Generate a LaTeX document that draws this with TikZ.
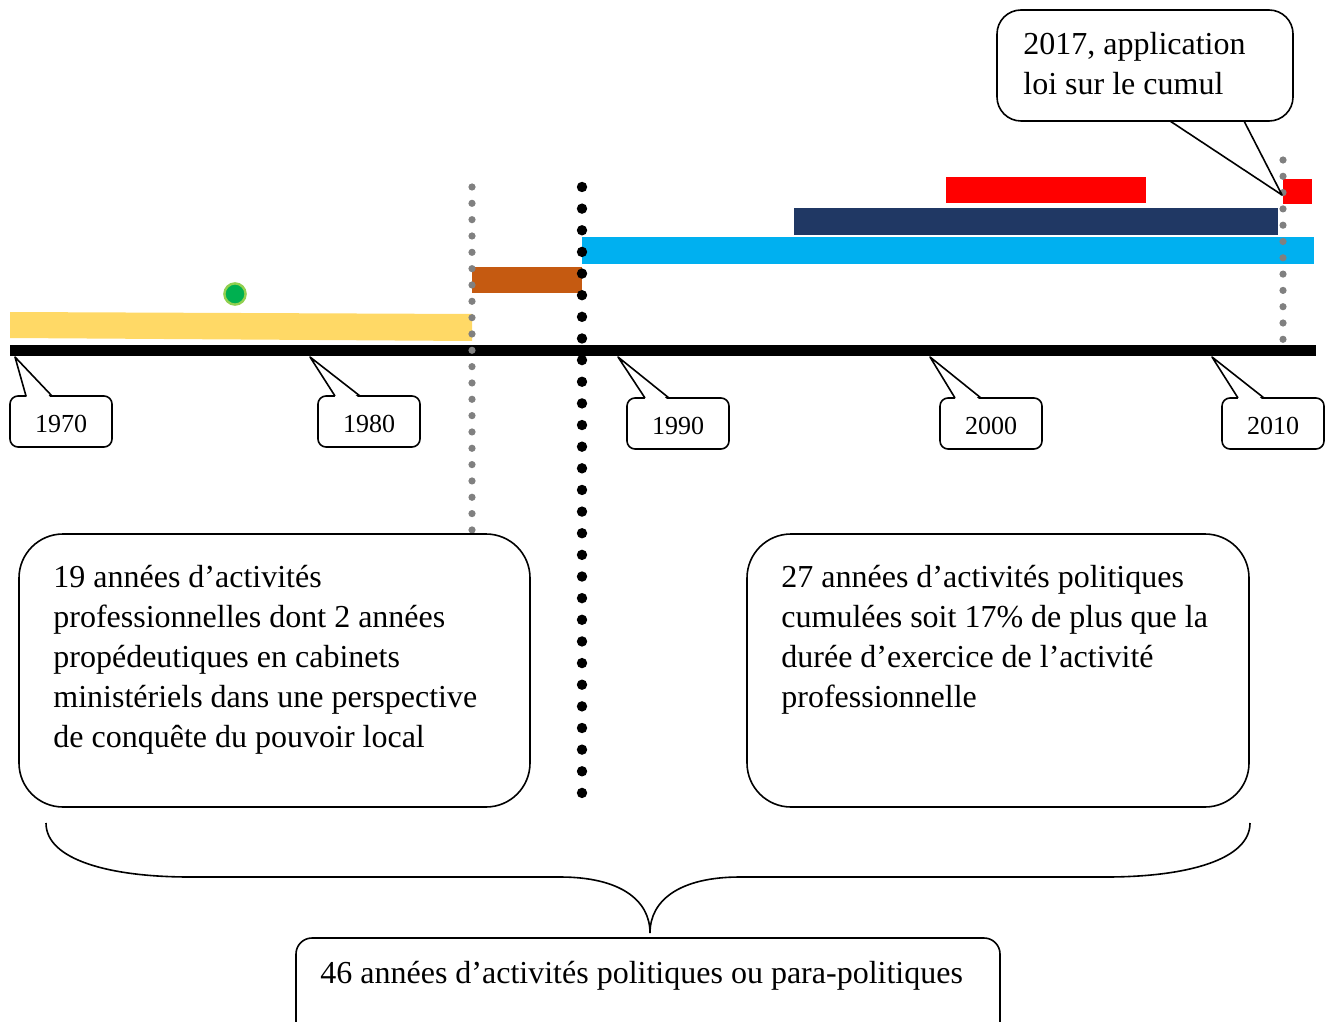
\documentclass[tikz,border=0pt]{standalone}
\usepackage{fontspec}
\setmainfont{Liberation Serif}
\definecolor{yellowbar}{HTML}{FFD966}
\definecolor{orangebar}{HTML}{C55A11}
\definecolor{lightbluebar}{HTML}{00B0F0}
\definecolor{navybar}{HTML}{203864}
\definecolor{redbar}{HTML}{FF0000}
\definecolor{greydot}{HTML}{808080}
\definecolor{greenfill}{HTML}{00B050}
\definecolor{greenring}{HTML}{92D050}
\tikzset{
  outline/.style={draw=black, line width=0.8pt, line join=round},
  maintext/.style={font=\fontsize{16}{20}\selectfont, inner sep=0pt, anchor=base west},
  yeartext/.style={font=\fontsize{13}{16}\selectfont, inner sep=0pt, anchor=base},
}
\begin{document}
\begin{tikzpicture}[x=0.5pt,y=-0.5pt]
\clip (0,0) rectangle (1331,1021);
\useasboundingbox (0,0) rectangle (1331,1021);

% bars
\fill[fill=yellowbar] (10,312) -- (472,314) -- (472,341) -- (10,338) -- cycle;
\fill[fill=orangebar] (472,267) rectangle (582,293);
\fill[fill=lightbluebar] (582,237) rectangle (1314,264);
\fill[fill=navybar] (794,208) rectangle (1278,235);
\fill[fill=redbar] (946,177) rectangle (1146,203);
\fill[fill=redbar] (1283,179) rectangle (1312,204);

% green marker
\filldraw[fill=greenfill, draw=greenring, line width=1.2pt] (235,294) circle (5.3pt);

% axis
\fill[black] (10,345) rectangle (1316,356);

% dotted verticals
\foreach \i in {0,...,21} \fill[greydot] (472,187+\i*16.33) circle (1.8pt);
\foreach \i in {0,...,11} \fill[greydot] (1283,160+\i*16.3) circle (1.8pt);
\foreach \i in {0,...,28} \fill[black] (582,187+\i*21.64) circle (2.6pt);

% year callouts
\foreach \xl/\tip/\ba/\bb/\yt/\yr in {10/15/26/52/396/1970, 318/310/335/360/396/1980, 627/618/645/669/398/1990, 940/930/955/981/398/2000, 1222/1212/1238/1264/398/2010}{
  \draw[outline, rounded corners=4pt] (\xl,\yt) rectangle (\xl+102,\yt+51);
  \fill[white] (\ba+1,\yt+2) -- (\tip,357) -- (\bb-1,\yt+2) -- cycle;
  \draw[outline] (\ba,\yt) -- (\tip,357) -- (\bb,\yt);
  \node[yeartext] (y\yr) at (\xl+51,\yt+36) {\yr};
}

% top callout
\draw[outline, rounded corners=12pt] (997,10) rectangle (1293,121);
\fill[white] (1172,123) -- (1282,195) -- (1242,123) -- cycle;
\draw[outline] (1170,121) -- (1282,195) -- (1244,121);
\node[maintext] (c1) at (1023,55) {2017, application};
\node[maintext] (c2) at (1023,95) {loi sur le cumul};

% left text box
\draw[outline, rounded corners=22pt] (19,534) rectangle (530,807);
\node[maintext] (l1) at (53,587) {19 années d’activités};
\node[maintext] (l2) at (53,627) {professionnelles dont 2 années};
\node[maintext] (l3) at (53,667) {propédeutiques en cabinets};
\node[maintext] (l4) at (53,707) {ministériels dans une perspective};
\node[maintext] (l5) at (53,747) {de conquête du pouvoir local};

% right text box
\draw[outline, rounded corners=22pt] (747,534) rectangle (1249,807);
\node[maintext] (r1) at (781,587) {27 années d’activités politiques};
\node[maintext] (r2) at (781,627) {cumulées soit 17\% de plus que la};
\node[maintext] (r3) at (781,667) {durée d’exercice de l’activité};
\node[maintext] (r4) at (781,707) {professionnelle};

% brace
\draw[line width=0.8pt] (46,823) .. controls (46,860) and (110,877) .. (190,877) -- (560,877) .. controls (620,877) and (650,900) .. (650,933)
  .. controls (650,900) and (680,877) .. (740,877) -- (1106,877) .. controls (1186,877) and (1250,860) .. (1250,823);

% bottom box
\draw[outline, rounded corners=8pt] (296,938) rectangle (1000,1060);
\node[maintext] (b1) at (320,983) {46 années d’activités politiques ou para-politiques};
\end{tikzpicture}
\end{document}
